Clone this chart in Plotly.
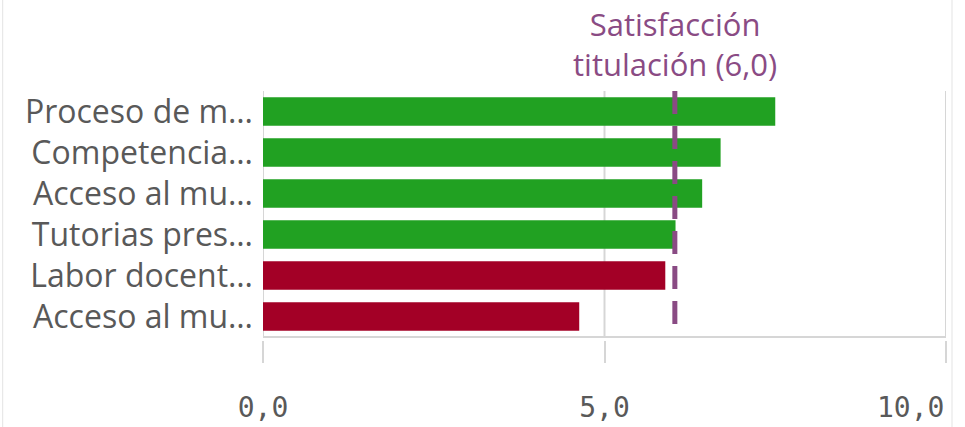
import plotly.graph_objects as go

# datos
categorias = ["Proceso de m…", "Competencia…", "Acceso al mu…", "Tutorias pres…",
              "Labor docent…", "Acceso al mu…"]
valores = [7.50, 6.70, 6.43, 6.04, 5.89, 4.63]
ref_valor = 6.03
ref_texto = "Satisfacción<br>titulación (6,0)"
tick_vals = [0, 5, 10]
tick_text = ["0,0", "5,0", "10,0"]

VERDE = "#21a122"
ROJO = "#a30026"
MORADO = "#8a4b84"
GRIS_TXT = "#595959"
GRIS_LIN = "#d6d6d6"
FUENTE_NUM = dict(family="DejaVu Sans Mono", size=28, color=GRIS_TXT)

W, H = 965, 427
ml, mr, mt, mb = 262.5, 19, 91, 30
ph = H - mt - mb
pw = W - ml - mr
dom_bottom = (H - mb - 337) / ph


def py2paper(py):
    return (H - mb - py) / ph


colores = [VERDE if v >= ref_valor else ROJO for v in valores]
pos = list(range(len(categorias)))  # dos categorias se llaman igual

# la ultima etiqueta va alineada a la derecha de su marca -> anotacion aparte
ticks_txt = tick_text[:-1] + [""]

fig = go.Figure()
fig.add_trace(go.Bar(
    x=valores, y=pos, orientation="h",
    marker=dict(color=colores, line=dict(width=0)),
    customdata=categorias, hovertemplate="%{customdata}: %{x:.1f}<extra></extra>",
))

shapes = []
# lineas verticales (0, 5, 10)
for t in tick_vals:
    shapes.append(dict(type="line", xref="x", yref="y domain", x0=t, x1=t, y0=0, y1=1,
                       line=dict(color=GRIS_LIN, width=2), layer="below"))
# borde inferior
shapes.append(dict(type="line", xref="x domain", yref="y domain", x0=0, x1=1, y0=0, y1=0,
                   line=dict(color=GRIS_LIN, width=2), layer="below"))
# linea de referencia
shapes.append(dict(type="line", xref="x", yref="y domain", x0=ref_valor, x1=ref_valor,
                   y0=1, y1=(337 - 325) / 246,
                   line=dict(color=MORADO, width=5, dash="23px,12px"), layer="above"))
# marco exterior
for px in [2, 952]:
    xp = (px - ml) / pw
    shapes.append(dict(type="line", xref="paper", yref="paper", x0=xp, x1=xp,
                       y0=py2paper(0), y1=py2paper(H),
                       line=dict(color="#e3e3e3", width=1)))

fig.update_layout(
    width=W, height=H,
    margin=dict(l=ml, r=mr, t=mt, b=mb, autoexpand=False),
    paper_bgcolor="white", plot_bgcolor="white",
    font=dict(family="Open Sans", color=GRIS_TXT),
    showlegend=False,
    bargap=0.305,
    shapes=shapes,
    annotations=[
        dict(x=ref_valor, xref="x", y=py2paper(44), yref="paper", yanchor="middle",
             text=ref_texto, showarrow=False,
             font=dict(family="Open Sans", size=31, color=MORADO)),
        dict(x=tick_vals[-1], xref="x", y=py2paper(407), yref="paper",
             xanchor="right", yanchor="middle", text=tick_text[-1], showarrow=False,
             font=FUENTE_NUM),
    ],
    xaxis=dict(
        range=[0, 10], tickvals=tick_vals, ticktext=ticks_txt,
        showgrid=False, zeroline=False, showline=False,
        anchor="free", position=dom_bottom - 3 / ph,
        ticks="outside", ticklen=22, tickwidth=2, tickcolor=GRIS_LIN,
        ticklabelstandoff=20,
        tickfont=FUENTE_NUM,
    ),
    yaxis=dict(
        domain=[dom_bottom, 1],
        range=[len(pos) - 0.5, -0.5], tickvals=pos, ticktext=categorias,
        showgrid=False, zeroline=False, showline=False,
        ticks="", ticklabelstandoff=9,
        tickfont=dict(family="Open Sans", size=32, color=GRIS_TXT),
    ),
)

fig.write_html("out.html", config={"displayModeBar": False},
               post_script="document.body.style.margin='0';")
